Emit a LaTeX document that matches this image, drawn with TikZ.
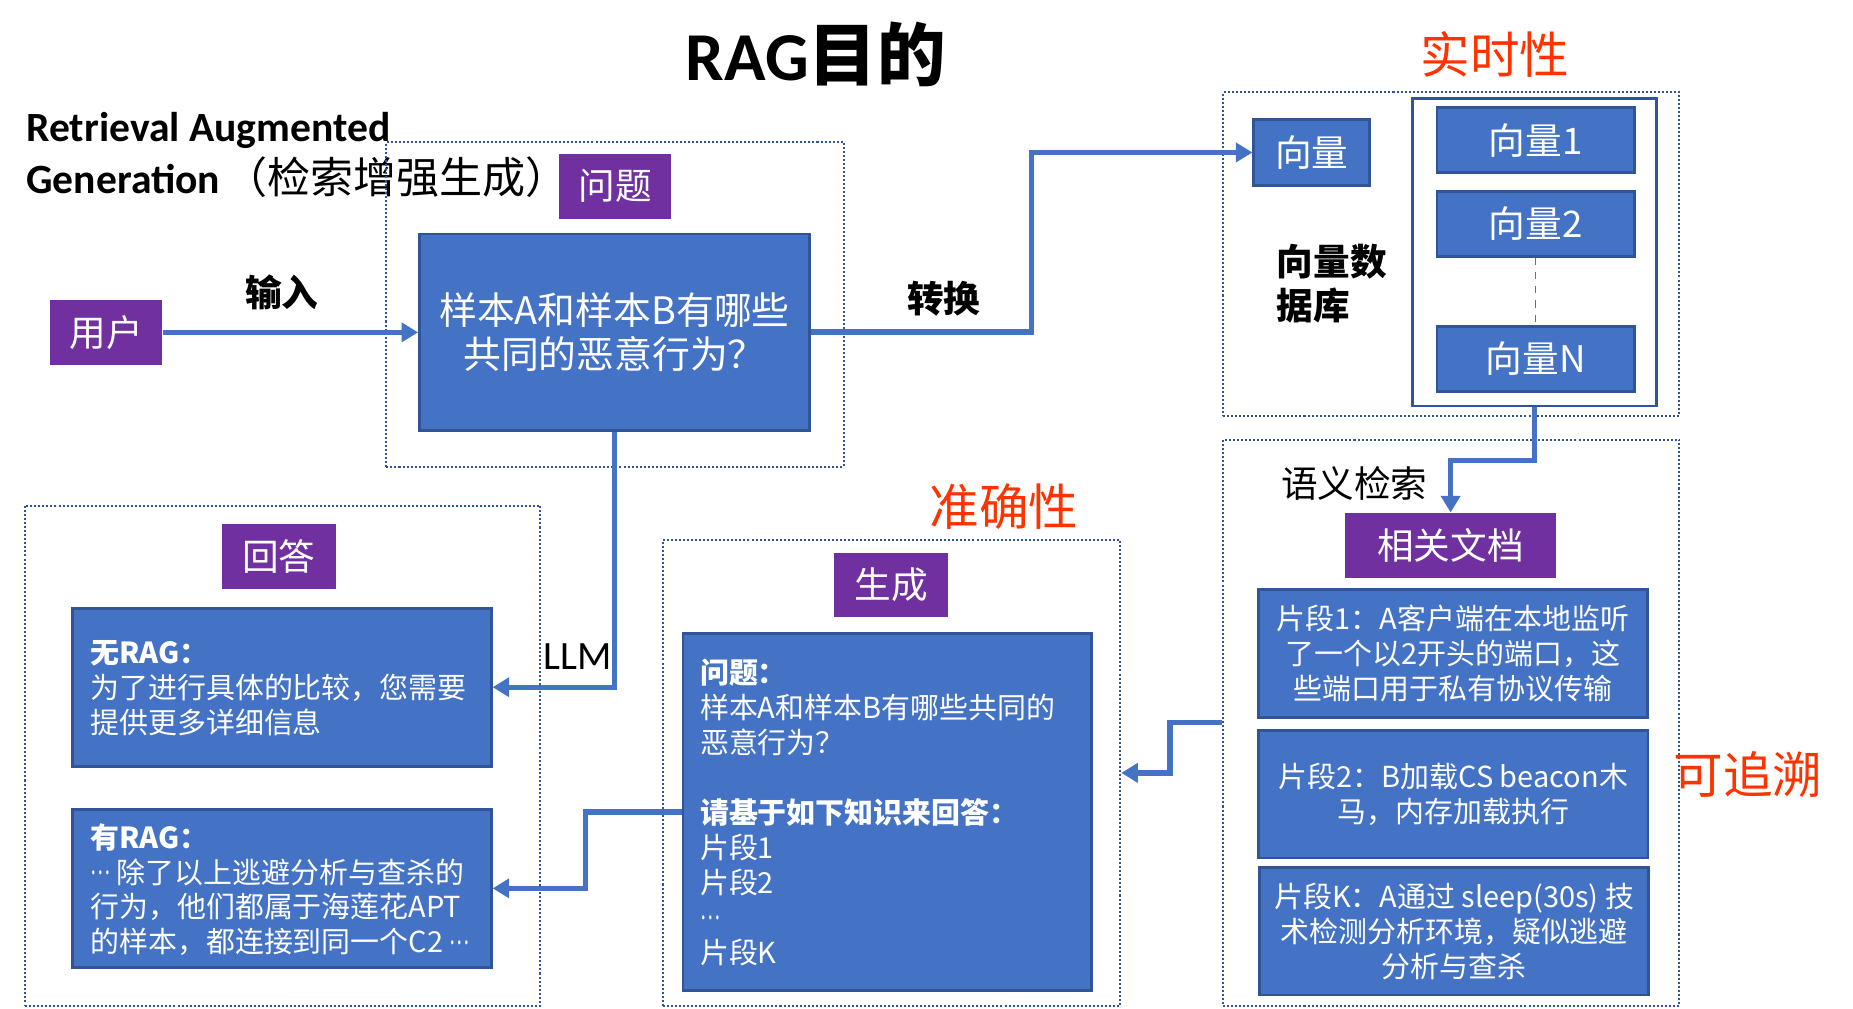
\documentclass[tikz,border=0pt]{standalone}
\usepackage{fontspec}
\usepackage{graphicx}
\setmainfont{Noto Sans CJK SC}
\newfontfamily\lat{Carlito}
\usetikzlibrary{arrows.meta}
\definecolor{obl}{HTML}{4472C4}
\definecolor{obd}{HTML}{2F5597}
\definecolor{opu}{HTML}{7030A0}
\definecolor{ored}{HTML}{FF3300}
\newcommand\mdots{\raisebox{0.3em}{\scalebox{0.65}[1]{…}}}
\tikzset{
 sz/.style 2 args={minimum width=#1*0.5pt, minimum height=#2*0.5pt},
 dotbox/.style={draw=obd, line width=0.85pt, dash pattern=on 0.85pt off 0.85pt, inner sep=0},
 bluebox/.style={draw=obd, fill=obl, line width=1.2pt, text=white, inner sep=0},
 purbox/.style={fill=opu, text=white, inner sep=0, font=\fontsize{15.5}{18}\selectfont},
 vecfont/.style={font=\fontsize{15.5}{18}\selectfont},
 fragfont/.style={font=\fontsize{12.25}{14.85}\selectfont},
 wtxt/.style={text=white, inner sep=0, anchor=west, align=left, font=\fontsize{12.25}{14.8}\selectfont},
 arr/.style={draw=obl, line width=2.25pt, -{Triangle[length=7pt,width=8pt]}},
 redlbl/.style={text=ored, inner sep=0, font=\fontsize{21}{24}\selectfont},
 blk/.style={inner sep=0, font=\fontsize{15.5}{19}\selectfont},
}
\begin{document}
\begin{tikzpicture}[x=0.5pt,y=-0.5pt]
\useasboundingbox (0,0) rectangle (1568,853);
% title
\node[anchor=base west, inner sep=0, font=\fontsize{29}{34}\selectfont] (title) at (580,67.7) {{\lat\bfseries RAG}\bfseries 目的};
\node[anchor=base west, inner sep=0, font=\fontsize{17.6}{20}\selectfont] (sub1) at (22,120) {\lat\bfseries Retrieval Augmented};
\node[anchor=base west, inner sep=0, font=\fontsize{17.6}{20}\selectfont] (sub2) at (22,163.6) {{\lat\bfseries Generation}\hspace{0.1em}{\fontsize{18.2}{20}\selectfont（检索增强生成）}};
% question
\node[dotbox, sz={387}{275}] (qdot) at (520.5,257.5) {};
\node[purbox, sz={95}{55}] (q) at (520.5,157.5) {问题};
\node[bluebox, sz={330}{166}, font=\fontsize{16}{19}\selectfont, align=center] (qbox) at (520,281) {样本A和样本B有哪些\\共同的恶意行为？};
\node[purbox, sz={95}{54.5}] (user) at (90,281.25) {用户};
\node[blk, font=\fontsize{15.5}{19}\selectfont\bfseries] (inlbl) at (238.5,247.5) {输入};
\node[blk, font=\fontsize{15.5}{19}\selectfont\bfseries] (cvlbl) at (798.5,252.5) {转换};
% vector db
\node[redlbl] (rt) at (1265,46) {实时性};
\node[dotbox, sz={386}{274}] (dbdot) at (1228,215) {};
\node[draw=obd, line width=1.2pt, fill=white, inner sep=0, sz={207}{260}] (dbin) at (1298.5,213.5) {};
\node[bluebox, sz={98}{56}, vecfont] (vec) at (1110,129) {向量};
\node[bluebox, sz={167}{55}, vecfont] (v1) at (1299.5,118.5) {向量1};
\node[bluebox, sz={167}{55}, vecfont] (v2) at (1299.5,189.5) {向量2};
\node[bluebox, sz={167}{54.5}, vecfont] (vN) at (1299.5,303.75) {向量N};
\draw[obl, line width=0.6pt, dashed] (v2.south) -- (vN.north);
\node[blk, font=\fontsize{15.5}{19}\selectfont\bfseries, align=left, anchor=west] (dblbl) at (1080,240) {向量数\\据库};
% docs
\node[dotbox, sz={386}{479}] (docsdot) at (1228,611.5) {};
\node[blk] (sem) at (1146,409) {语义检索};
\node[purbox, sz={179}{55}] (docs) at (1227.5,461.5) {相关文档};
\node[bluebox, sz={329}{108}, fragfont, align=center] (f1) at (1229.5,553) {片段1：A客户端在本地监听\\了一个以2开头的端口，这\\些端口用于私有协议传输};
\node[bluebox, sz={329.5}{108}, fragfont, align=center] (f2) at (1229.75,672) {片段2：B加载CS beacon木\\马，内存加载执行};
\node[bluebox, sz={329}{108}, fragfont, align=center] (fK) at (1230.5,788) {片段K：A通过 sleep(30s) 技\\术检测分析环境，疑似逃避\\分析与查杀};
\node[redlbl] (zs) at (1479,655) {可追溯};
% generation
\node[redlbl] (zq) at (849.5,429) {准确性};
\node[dotbox, sz={387}{394}] (gendot) at (754.5,654) {};
\node[purbox, sz={96}{54}] (gen) at (754,495) {生成};
\node[bluebox, sz={345.5}{302}] (genbox) at (750.75,687) {};
\node[wtxt] (gentxt) at (592,687.25) {\textbf{问题：}\\样本A和样本B有哪些共同的\\恶意行为？\\[14.8pt]\textbf{请基于如下知识来回答：}\\片段1\\片段2\\\mdots\\片段K};
% answer
\node[dotbox, sz={436}{423}] (ansdot) at (239,639.5) {};
\node[purbox, sz={96}{55}] (ans) at (236,470.5) {回答};
\node[bluebox, sz={354.2}{133.6}] (norag) at (238.6,581.5) {};
\node[wtxt] (noragtxt) at (76,582) {\textbf{无RAG：}\\为了进行具体的比较，您需要\\提供更多详细信息};
\node[bluebox, sz={354.2}{133.4}] (rag) at (238.6,751.7) {};
\node[wtxt] (ragtxt) at (76,752.8) {\textbf{有RAG：}\\\mdots\ 除了以上逃避分析与查杀的\\行为，他们都属于海莲花APT\\的样本，都连接到同一个C2 \mdots};
\node[inner sep=0, font=\fontsize{17}{20}\selectfont\lat] (llm) at (489,556) {LLM};
% connectors
\coordinate (tk) at (873,200);
\draw[arr] (user.east) -- (qbox.west |- user.east);
\draw[arr] (qbox.east) -- (qbox.east -| tk) |- (vec.west);
\draw[arr] (dbin.south) -- ++(0,45) -| (docs.north);
\draw[arr] (docsdot.west) -- ++(-44,0) |- (gendot.east);
\draw[arr] (qbox.south) |- (norag.east);
\draw[arr] (genbox.west) -- ++(-81.2,0) |- (rag.east);
\end{tikzpicture}
\end{document}
